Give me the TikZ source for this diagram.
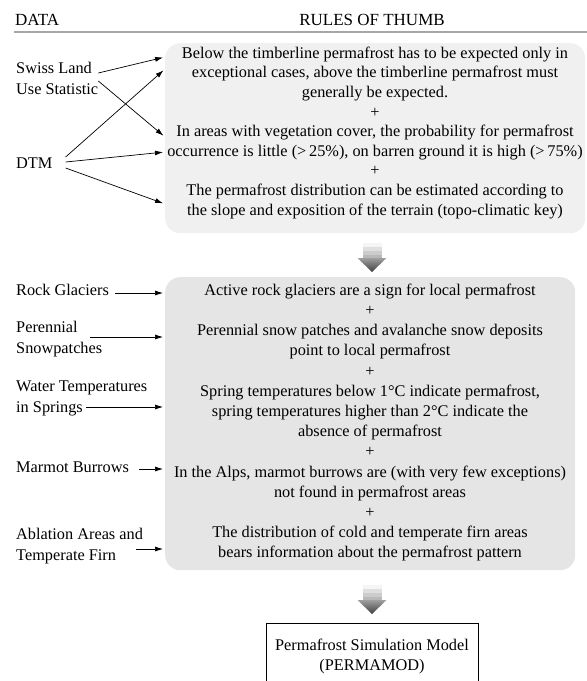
\documentclass[tikz,border=0pt]{standalone}
\usepackage{fontspec}
\setmainfont{Liberation Serif}
\usetikzlibrary{arrows.meta,positioning}

\begin{document}
\begin{tikzpicture}[x=1pt,y=-1pt,
  every node/.style={font=\fontsize{16.3}{19.6}\selectfont, inner sep=0pt},
  lbl/.style={anchor=west, align=left, font=\fontsize{16.3}{21}\selectfont},
  feed/.style={-{Latex[length=8pt,width=5pt]}, line width=0.7pt, shorten >=2pt},
  rulebox/.style={rounded corners=15pt, anchor=north west},
  grayarrow/.pic={
    \fill[gray!8]  (-9.5,0) rectangle (9.5,4);
    \fill[gray!25] (-9.5,4) rectangle (9.5,8);
    \fill[gray!40] (-9.5,8) rectangle (9.5,12);
    \fill[gray!55] (-9.5,12) rectangle (9.5,15);
    \shade[top color=gray!75, bottom color=black!75] (-14.5,15) -- (14.5,15) -- (0,29) -- cycle;
  }]
  \useasboundingbox (0,0) rectangle (587,681);

  % header
  \node[anchor=west, font=\fontsize{17}{20}\selectfont] (data) at (15,20) {DATA};
  \node[font=\fontsize{17}{20}\selectfont] (thumb) at (372,20) {RULES OF THUMB};
  \draw[gray!70, line width=1.5pt] (14,32) -- (587,32);

  % first block
  \node[rulebox, fill=gray!12, minimum width=420pt, minimum height=190pt] (rules) at (165,43) {};
  \node[anchor=north, align=center] (rulestext) at (375,46.7) {%
    Below the timberline permafrost has to be expected only in\\
    exceptional cases, above the timberline permafrost must\\
    generally be expected.\\
    +\\
    In areas with vegetation cover, the probability for permafrost\\
    occurrence is little (>\,25\%), on barren ground it is high (>\,75\%)\\
    +\\
    The permafrost distribution can be estimated according to\\
    the slope and exposition of the terrain (topo-climatic key)};

  \node[lbl] (swiss) at (16,78) {Swiss Land\\Use Statistic};
  \node[lbl] (dtm) at (16,163) {DTM};

  \draw[feed] ([yshift=5pt]swiss.east) -- (rules.west |- 0,57);
  \draw[feed] ([yshift=-3pt]swiss.east) -- (rules.west |- 0,137);
  \draw[feed] ([xshift=13pt,yshift=6pt]dtm.east) -- (rules.west |- 0,69);
  \draw[feed] ([xshift=13pt,yshift=1pt]dtm.east) -- (rules.west |- 0,152);
  \draw[feed] ([xshift=13pt,yshift=-5pt]dtm.east) -- (rules.west |- 0,204);

  \pic at (372,243) {grayarrow};

  % second block
  \node[rulebox, fill=gray!20, minimum width=410pt, minimum height=293pt] (rules2) at (165,277) {};
  \node[anchor=north, align=center, font=\fontsize{16.3}{20.2}\selectfont] (rules2text) at (370,283.7) {%
    Active rock glaciers are a sign for local permafrost\\
    +\\
    Perennial snow patches and avalanche snow deposits\\
    point to local permafrost\\
    +\\
    Spring temperatures below 1°C indicate permafrost,\\
    spring temperatures higher than 2°C indicate the\\
    absence of permafrost\\
    +\\
    In the Alps, marmot burrows are (with very few exceptions)\\
    not found in permafrost areas\\
    +\\
    The distribution of cold and temperate firn areas\\
    bears information about the permafrost pattern};

  \node[lbl] (rock) at (16,290) {Rock Glaciers};
  \node[lbl] (snow) at (16,339) {Perennial\\Snowpatches};
  \node[lbl] (water) at (16,398) {Water Temperatures\\in Springs};
  \node[lbl] (marmot) at (16,467) {Marmot Burrows};
  \node[lbl] (firn) at (16,546) {Ablation Areas and\\Temperate Firn};

  \draw[feed] ([xshift=6pt,yshift=-3pt]rock.east) -- (rules2.west |- 0,293);
  \draw[feed] ([xshift=-12pt,yshift=2pt]snow.east) -- (rules2.west |- 0,337);
  \draw[feed] ([xshift=-61pt,yshift=-9pt]water.east) -- (rules2.west |- 0,407);
  \draw[feed] ([xshift=10pt,yshift=-2pt]marmot.east) -- (rules2.west |- 0,469);
  \draw[feed] ([xshift=-7pt,yshift=-3pt]firn.east) -- (rules2.west |- 0,549);

  \pic at (372,585) {grayarrow};

  % model
  \node[draw, line width=0.8pt, anchor=north, align=center, minimum width=212pt, minimum height=66pt] (model) at (372,623) {Permafrost Simulation Model\\(PERMAMOD)};
\end{tikzpicture}
\end{document}
